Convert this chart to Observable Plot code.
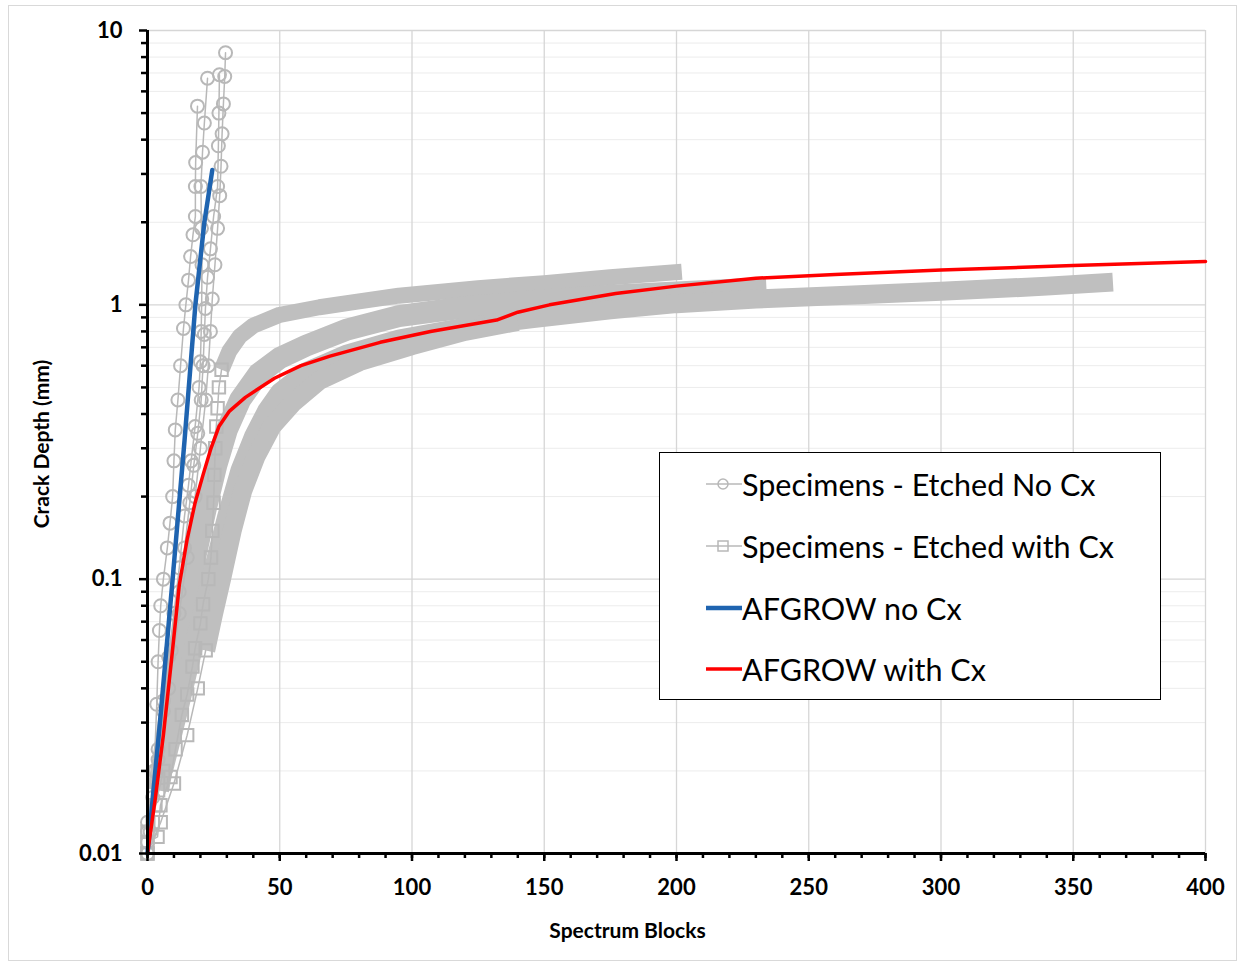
<!DOCTYPE html>
<html>
<head>
<meta charset="utf-8">
<script src="https://cdn.jsdelivr.net/npm/d3@7"></script>
<script src="https://cdn.jsdelivr.net/npm/@observablehq/plot@0.6"></script>
<style>
  html, body { margin: 0; padding: 0; background: #fff; }
  #wrap { position: relative; width: 1241px; height: 965px; font-family: Lato, "Open Sans", sans-serif; }
  #border { position: absolute; left: 8px; top: 5px; width: 1227px; height: 954px; border: 1px solid #d9d9d9; }
  #chart { position: absolute; left: 0; top: 0; }
  #legend { position: absolute; left: 659px; top: 452px; width: 500px; height: 246px; border: 1.5px solid #000; background: #fff; }
  .row { position: absolute; left: 0; height: 40px; display: flex; align-items: center; }
  .row svg { margin-left: 46px; }
  .row span { font-size: 30.5px; color: #000; margin-left: 0px; white-space: nowrap; }
</style>
</head>
<body>
<div id="wrap">
  <div id="border"></div>
  <div id="chart"></div>
  <div id="legend"></div>
</div>
<script>
// ---- axis ticks ----
const xMajorTicks = [0, 50, 100, 150, 200, 250, 300, 350, 400];
const xMinorTicks = [0,10,20,30,40,50,60,70,80,90,100,110,120,130,140,150,160,170,180,190,200,210,220,230,240,250,260,270,280,290,300,310,320,330,340,350,360,370,380,390,400];
const yMajorTicks = [0.01, 0.1, 1, 10];
const yMajorLabels = ["0.01", "0.1", "1", "10"];
const yMinorTicks = [0.02,0.03,0.04,0.05,0.06,0.07,0.08,0.09,0.2,0.3,0.4,0.5,0.6,0.7,0.8,0.9,2,3,4,5,6,7,8,9];

// ---- Specimens - Etched No Cx (blocks, crack depth mm) ----
const etchedNoCxA = [[0,0.01],[1,0.012],[2.5,0.02],[3.5,0.035],[4,0.05],[4.5,0.065],[5,0.08],[6,0.1],[7.5,0.13],[8.5,0.16],[9.5,0.2],[10,0.27],[10.5,0.35],[11.5,0.45],[12.5,0.6],[13.6,0.82],[14.5,1.0],[15.5,1.23],[16.3,1.5],[17.2,1.8],[18.1,2.1],[18.1,2.7],[18.2,3.3],[18.9,5.3]];
const etchedNoCxB = [[0,0.011],[2,0.016],[4,0.024],[6,0.036],[8,0.052],[10,0.075],[12,0.11],[14,0.17],[15.5,0.22],[16.5,0.27],[18,0.36],[19.5,0.5],[20,0.62],[20.3,0.8],[20.5,1.05],[20.6,1.4],[20.4,1.9],[20.2,2.7],[20.8,3.6],[21.5,4.6],[22.7,6.7]];
const etchedNoCxC = [[0,0.012],[3,0.02],[6,0.033],[9,0.055],[12,0.09],[14,0.13],[16,0.19],[17.5,0.26],[19,0.34],[20.3,0.45],[21,0.6],[21.5,0.78],[21.9,0.97],[22.7,1.26],[23.8,1.6],[25,2.1],[26.5,2.7],[26.8,3.8],[27,5.0],[27.2,6.9]];
const etchedNoCxD = [[0,0.013],[4,0.022],[8,0.04],[12,0.075],[15,0.12],[18,0.2],[20,0.3],[22,0.45],[23,0.6],[23.8,0.8],[24.5,1.05],[25.5,1.4],[26.5,1.9],[27.3,2.5],[27.8,3.2],[28.2,4.2],[28.7,5.4],[29.2,6.8],[29.5,8.3]];

// ---- Specimens - Etched with Cx: sparse (separate markers) and dense (overlapping markers) portions ----
const etchedCx1Sparse = [[0,0.011],[3.8,0.0115],[4.9,0.015],[8.7,0.019],[10.6,0.024],[13,0.032],[15,0.038],[17,0.048],[18,0.056],[20,0.069],[21,0.081],[23,0.1],[24,0.12],[24.5,0.15],[25,0.19],[25.3,0.24],[25.6,0.3],[26,0.36],[26.5,0.42],[27,0.5],[28,0.58]];
const etchedCx1Dense = [[28,0.58],[31,0.68],[35,0.77],[40,0.84],[50,0.92],[65,0.98],[80,1.03],[95,1.08],[125,1.15],[150,1.2],[175,1.26],[202,1.32]];
const etchedCx2Sparse = [[0,0.01],[2,0.013],[4,0.017]];
const etchedCx2Dense = [[4,0.017],[6,0.022],[8,0.03],[10,0.04],[12,0.055],[15,0.08],[18,0.12],[22,0.18],[26,0.26],[30,0.35],[35,0.45],[42,0.56],[50,0.64],[60,0.71],[75,0.81],[95,0.91],[120,0.98],[145,1.03],[175,1.08],[200,1.11],[234,1.15]];
const etchedCx3Sparse = [[0,0.012],[3,0.015],[6,0.02]];
const etchedCx3Dense = [[6,0.02],[9,0.026],[12,0.034],[15,0.045],[18,0.06],[22,0.085],[26,0.12],[30,0.17],[35,0.25],[40,0.33],[45,0.41],[50,0.48],[60,0.57],[75,0.66],[95,0.75],[120,0.83],[145,0.89],[175,0.96],[200,1.01],[230,1.05],[260,1.08],[300,1.12],[340,1.17],[365,1.21]];
const etchedCx4Sparse = [[0,0.01],[5,0.013],[10,0.018],[15,0.027],[19,0.04],[22,0.055]];
const etchedCx4Dense = [[22,0.055],[25,0.075],[28,0.1],[32,0.15],[36,0.21],[41,0.28],[47,0.36],[55,0.44],[65,0.53],[80,0.62],[100,0.71],[120,0.8],[140,0.87]];

// ---- AFGROW predictions ----
const afgrowNoCx = [[0,0.01],[4.7,0.03],[9.5,0.1],[14,0.32],[18.1,1.0],[21.5,2.0],[24.5,3.1]];
const afgrowWithCx = [[0,0.01],[3,0.016],[6,0.027],[9,0.05],[12,0.095],[15,0.14],[18,0.19],[21,0.24],[24,0.3],[27,0.36],[31,0.41],[37,0.46],[48,0.54],[58,0.6],[69,0.65],[88,0.73],[107,0.8],[126,0.86],[132,0.88],[140,0.94],[152,1.0],[177,1.1],[200,1.17],[230,1.25],[260,1.29],[300,1.34],[350,1.39],[400,1.44]];

const GREY = "#b8b8b8";
const BAND = "#bfbfbf";
const BLUE = "#1f64b0";
const RED = "#ff0000";
const X = d => d[0], Y = d => d[1];

const noCx = [etchedNoCxA, etchedNoCxB, etchedNoCxC, etchedNoCxD];
const cxSparse = [etchedCx1Sparse, etchedCx2Sparse, etchedCx3Sparse, etchedCx4Sparse];
const cxDense = [etchedCx1Dense, etchedCx2Dense, etchedCx3Dense, etchedCx4Dense];
const denseWidths = [16, 22, 19, 19];

const marks = [
  Plot.ruleY(yMinorTicks, {stroke: "#ececec", strokeWidth: 1}),
  Plot.ruleY(yMajorTicks.slice(1), {stroke: "#d6d6d6", strokeWidth: 1.3}),
  Plot.ruleX(xMajorTicks.slice(1), {stroke: "#d6d6d6", strokeWidth: 1.3}),
];
cxDense.forEach((s, i) => marks.push(Plot.line(s, {x: X, y: Y, stroke: BAND, strokeWidth: denseWidths[i], strokeLinejoin: "round", strokeLinecap: "butt"})));
cxSparse.forEach(s => {
  marks.push(Plot.line(s, {x: X, y: Y, stroke: GREY, strokeWidth: 1.5}));
  marks.push(Plot.dot(s, {x: X, y: Y, symbol: "square", r: 7, stroke: GREY, strokeWidth: 2, fill: "none"}));
});
noCx.forEach(s => {
  marks.push(Plot.line(s, {x: X, y: Y, stroke: GREY, strokeWidth: 1.5}));
  marks.push(Plot.dot(s, {x: X, y: Y, r: 6.5, stroke: GREY, strokeWidth: 2, fill: "none"}));
});
marks.push(
  Plot.line(afgrowNoCx, {x: X, y: Y, stroke: BLUE, strokeWidth: 4.5}),
  Plot.line(afgrowWithCx, {x: X, y: Y, stroke: RED, strokeWidth: 3.5}),
  Plot.ruleX([0], {stroke: "#000", strokeWidth: 3}),
  Plot.ruleY([0.01], {stroke: "#000", strokeWidth: 3}),
  Plot.axisX(xMinorTicks, {tickSize: 5, strokeWidth: 2.5, tickFormat: () => ""}),
  Plot.axisX(xMajorTicks, {tickSize: 8, strokeWidth: 2.5, tickPadding: 18, fontSize: 22, fontWeight: "bold", fill: "#000", tickFormat: d => String(d)}),
  Plot.axisY(yMinorTicks, {tickSize: 6, strokeWidth: 2.5, tickFormat: () => ""}),
  Plot.axisY(yMajorTicks, {tickSize: 8, strokeWidth: 2.5, tickPadding: 17, fontSize: 22, fontWeight: "bold", fill: "#000", tickFormat: d => yMajorLabels[yMajorTicks.indexOf(d)]}),
  Plot.text(["Spectrum Blocks"], {frameAnchor: "bottom", dx: -49, dy: 84, textAnchor: "middle", fontSize: 21, fontWeight: "bold", fill: "#000"}),
  Plot.text(["Crack Depth (mm)"], {frameAnchor: "left", dx: -105, dy: 2, rotate: -90, textAnchor: "middle", fontSize: 21, fontWeight: "bold", fill: "#000"})
);

const chart = Plot.plot({
  width: 1241,
  height: 965,
  marginLeft: 147,
  marginRight: 36,
  marginTop: 30,
  marginBottom: 112,
  style: {fontFamily: "Lato, 'Open Sans', sans-serif", background: "transparent", overflow: "visible"},
  x: {domain: [0, 400], axis: null},
  y: {type: "log", domain: [0.01, 10], axis: null},
  marks
});
document.getElementById("chart").appendChild(chart);

// ---- legend ----
const legendItems = [
  {label: "Specimens - Etched No Cx", color: GREY, width: 1.5, marker: "circle"},
  {label: "Specimens - Etched with Cx", color: GREY, width: 1.5, marker: "square"},
  {label: "AFGROW no Cx", color: BLUE, width: 4.5, marker: null},
  {label: "AFGROW with Cx", color: RED, width: 3.5, marker: null}
];
const rowCenters = [31, 93, 155, 216];
const legend = document.getElementById("legend");
legendItems.forEach((it, i) => {
  const row = document.createElement("div");
  row.className = "row";
  row.style.top = (rowCenters[i] - 20) + "px";
  let m = "";
  if (it.marker === "circle") m = `<circle cx="17" cy="20" r="5" fill="none" stroke="${it.color}" stroke-width="1.5"/>`;
  if (it.marker === "square") m = `<rect x="12" y="15" width="10" height="10" fill="none" stroke="${it.color}" stroke-width="1.5"/>`;
  row.innerHTML = `<svg width="36" height="40"><line x1="0" x2="36" y1="20" y2="20" stroke="${it.color}" stroke-width="${it.width}"/>${m}</svg><span>${it.label}</span>`;
  legend.appendChild(row);
});
</script>
</body>
</html>
